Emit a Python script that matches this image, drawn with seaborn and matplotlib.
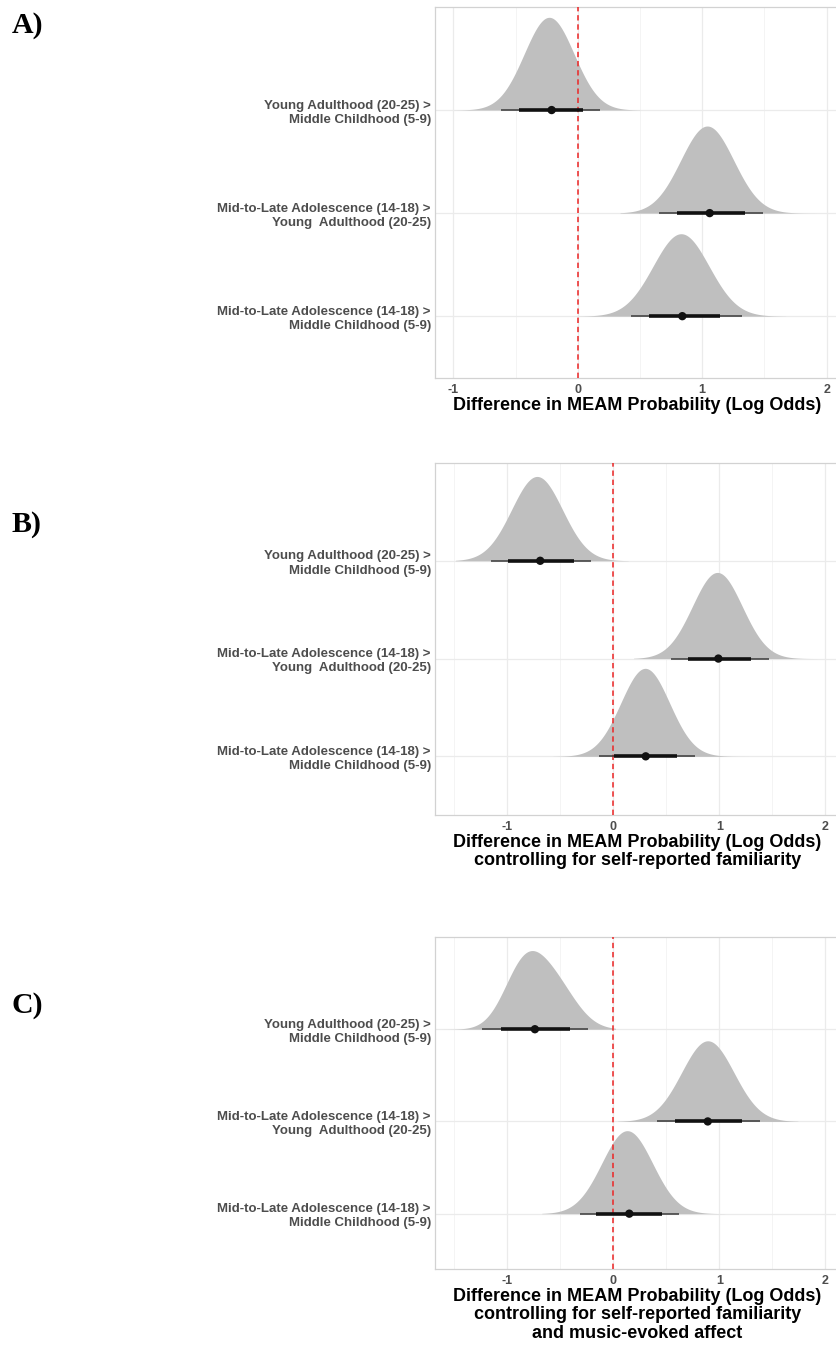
import numpy as np
import matplotlib
matplotlib.use("Agg")
import matplotlib.pyplot as plt
import seaborn as sns

# ---- data -----------------------------------------------------------------
contrasts = [
    "Young Adulthood (20-25) >\nMiddle Childhood (5-9)",
    "Mid-to-Late Adolescence (14-18) >\nYoung  Adulthood (20-25)",
    "Mid-to-Late Adolescence (14-18) >\nMiddle Childhood (5-9)",
]
row_pos = [3, 2, 1]

# Model A: unadjusted
median_a = [-0.21, 1.06, 0.84]
ci80_a = [(-0.47, 0.045), (0.80, 1.34), (0.57, 1.14)]
ci95_a = [(-0.62, 0.18), (0.65, 1.49), (0.43, 1.32)]
span_a = [(-1.00, 0.50), (0.34, 1.92), (0.01, 1.67)]
dens_a = [[(-0.23, 0.200, 1.0)], [(1.04, 0.213, 1.0)], [(0.83, 0.225, 1.0)]]

# Model B: controlling for familiarity
median_b = [-0.69, 0.99, 0.305]
ci80_b = [(-0.99, -0.37), (0.70, 1.30), (0.01, 0.60)]
ci95_b = [(-1.15, -0.21), (0.54, 1.47), (-0.14, 0.77)]
span_b = [(-1.49, 0.14), (0.19, 1.92), (-0.57, 1.27)]
dens_b = [[(-0.72, 0.240, 1.0)], [(0.98, 0.235, 1.0)], [(0.30, 0.230, 1.0)]]

# Model C: controlling for familiarity and affect
median_c = [-0.74, 0.89, 0.15]
ci80_c = [(-1.06, -0.41), (0.58, 1.21), (-0.16, 0.46)]
ci95_c = [(-1.24, -0.24), (0.415, 1.38), (-0.31, 0.62)]
span_c = [(-1.62, 0.02), (0.04, 1.74), (-0.675, 1.05)]
dens_c = [[(-0.85, 0.19, 0.55), (-0.56, 0.21, 0.45)],
          [(0.89, 0.247, 1.0)], [(0.13, 0.240, 1.0)]]

panel_letters = ["A)", "B)", "C)"]
xlabels = [
    "Difference in MEAM Probability (Log Odds)",
    "Difference in MEAM Probability (Log Odds)\ncontrolling for self-reported familiarity",
    "Difference in MEAM Probability (Log Odds)\ncontrolling for self-reported familiarity\nand music-evoked affect",
]

# ---- style ----------------------------------------------------------------
sns.set_theme(style="whitegrid")
plt.rcParams["font.family"] = ["Liberation Sans", "DejaVu Sans"]

W, H = 837, 1345
fig = plt.figure(figsize=(W / 100, H / 100), dpi=100)
fig.patch.set_facecolor("white")

SLAB = "#bfbfbf"
TXT = "#4d4d4d"
GRID = "#ebebeb"


def density(x, comps):
    y = np.zeros_like(x)
    for loc, sd, w in comps:
        y += w * np.exp(-0.5 * ((x - loc) / sd) ** 2) / (sd * np.sqrt(2 * np.pi))
    return y


def draw_panel(ax, medians, ci80, ci95, spans, dens, xlim, xlabel):
    curves = []
    for (lo, hi), comps in zip(spans, dens):
        xs = np.linspace(lo, hi, 400)
        curves.append((xs, density(xs, comps)))
    peak = max(c[1].max() for c in curves)
    for (xs, ys), yb in zip(curves, row_pos):
        ax.fill_between(xs, yb, yb + 0.9 * ys / peak, color=SLAB, lw=0, zorder=2)

    ax.axvline(0, color="#ec2424", lw=1.1, ls=(0, (3.5, 2.5)), zorder=3)

    for (l95, h95), (l80, h80), yb in zip(ci95, ci80, row_pos):
        ax.plot([l95, h95], [yb, yb], color="#3a3a3a", lw=1.1,
                solid_capstyle="butt", zorder=4)
        ax.plot([l80, h80], [yb, yb], color="#111111", lw=2.6,
                solid_capstyle="butt", zorder=5)
    sns.scatterplot(x=medians, y=row_pos, ax=ax, color="#111111", s=36,
                    edgecolor="none", zorder=6, legend=False)

    ax.set_xticks([-1, 0, 1, 2])
    ax.set_xticklabels(["-1", "0", "1", "2"])
    ax.set_xticks([-1.5, -0.5, 0.5, 1.5], minor=True)
    ax.set_yticks(row_pos)
    ax.set_yticklabels(contrasts)
    ax.set_xlim(*xlim)
    ax.set_ylim(0.4, 4.0)
    ax.grid(True, which="major", color=GRID, lw=0.9, zorder=0)
    ax.grid(True, which="minor", axis="x", color="#f3f3f3", lw=0.6, zorder=0)
    ax.set_axisbelow(True)
    ax.tick_params(axis="both", which="both", length=0)
    ax.tick_params(axis="x", pad=4, labelsize=9, labelcolor=TXT)
    ax.tick_params(axis="y", pad=3, labelsize=9.5, labelcolor=TXT)
    for lbl in ax.get_xticklabels() + ax.get_yticklabels():
        lbl.set_fontweight("bold")
    for lbl in ax.get_yticklabels():
        lbl.set_linespacing(1.25)
    for s in ax.spines.values():
        s.set_color("#d2d2d2")
        s.set_linewidth(0.9)
    ax.spines["right"].set_visible(False)
    ax.set_xlabel(xlabel, fontsize=13, fontweight="bold", color="black",
                  labelpad=1, linespacing=1.1)
    ax.set_ylabel("")


# panel frames in pixel coordinates: (left, top, right, bottom)
frames = [(435, 7, 840, 378), (435, 463, 840, 815), (435, 937, 840, 1269)]
xlims = [(-1.147, 2.107), (-1.682, 2.137), (-1.682, 2.137)]
panels = [
    (median_a, ci80_a, ci95_a, span_a, dens_a),
    (median_b, ci80_b, ci95_b, span_b, dens_b),
    (median_c, ci80_c, ci95_c, span_c, dens_c),
]
letter_base = [33, 532, 1013]

for (l, t, r, b), xl, data, xlab, letter, lb in zip(
        frames, xlims, panels, xlabels, panel_letters, letter_base):
    ax = fig.add_axes([l / W, 1 - b / H, (r - l) / W, (b - t) / H])
    draw_panel(ax, *data, xl, xlab)
    fig.text(12 / W, 1 - lb / H, letter, fontsize=21.5, fontweight="bold",
             family=["Liberation Serif", "DejaVu Serif"], va="baseline",
             ha="left", color="black")

fig.savefig("out.png", dpi=100, facecolor="white")
